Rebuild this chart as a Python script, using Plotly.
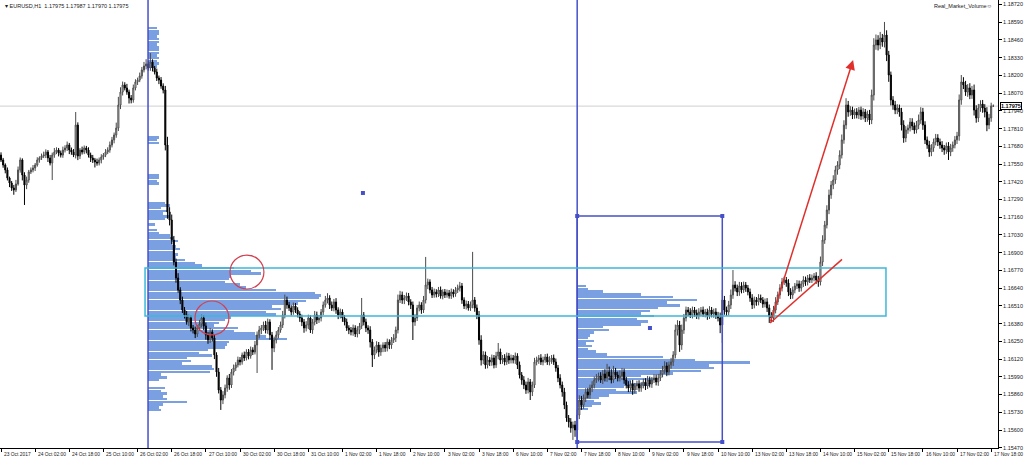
import numpy as np
import plotly.graph_objects as go

# ---------------- data (prices in 1e-5 units) ----------------
closes = [
117580,117543,117507,117448,117411,117375,117360,117404,117507,117580,
117470,117396,117433,117492,117507,117521,117543,117580,117595,117609,
117616,117638,117595,117558,117616,117638,117653,117631,117616,117653,
117668,117690,117653,117638,117616,117836,117609,117653,117638,117668,
117653,117616,117595,117580,117565,117558,117580,117602,117616,117638,
117653,117690,117727,117763,117814,117983,118078,118130,118108,118078,
118034,118020,118108,118152,118166,118196,118240,118269,118284,118254,
118298,118254,118225,118181,118166,118122,118093,117690,117199,117140,
116993,116832,116715,116627,116553,116480,116443,116392,116421,116348,
116333,116304,116348,116377,116421,116363,116297,116260,116319,116275,
116150,116025,115893,115820,115857,115908,115981,115930,116025,116055,
116077,116113,116099,116150,116128,116172,116143,116187,116172,116223,
116297,116333,116348,116370,116333,116392,116297,116201,116260,116297,
116333,116370,116443,116553,116517,116495,116465,116509,116480,116451,
116421,116392,116348,116370,116421,116333,116392,116443,116407,116421,
116465,116517,116553,116568,116517,116495,116539,116480,116443,116465,
116421,116392,116348,116333,116319,116348,116304,116333,116363,116443,
116392,116348,116333,116245,116150,116187,116223,116172,116201,116223,
116201,116245,116223,116260,116275,116333,116553,116590,116553,116568,
116583,116539,116517,116392,116421,116495,116517,116480,116553,116663,
116685,116627,116590,116612,116597,116627,116583,116612,116590,116605,
116583,116612,116597,116627,116641,116656,116553,116509,116524,116495,
116517,116553,116495,116443,116260,116113,116150,116077,116113,116099,
116128,116077,116143,116172,116113,116128,116099,116143,116113,116128,
116113,116143,116077,116003,115967,115930,115893,115952,115879,115930,
116099,116113,116128,116099,116113,116135,116099,116113,116128,116099,
116055,115981,115930,115879,115783,115688,115659,115615,115637,115600,
115710,115820,115783,115835,115879,115857,115908,115930,115967,115981,
115996,115967,116011,115981,116025,115996,115967,116025,116003,115981,
115996,116025,115967,115930,115908,115937,115893,115923,115937,115908,
115930,115952,115923,115967,115937,115967,115981,115952,115981,116011,
116040,116069,116025,116077,116099,116150,116333,116370,116223,116333,
116421,116480,116465,116443,116480,116458,116436,116465,116480,116451,
116465,116436,116480,116451,116465,116436,116421,116370,116553,116480,
116465,116517,116590,116663,116641,116612,116656,116627,116663,116641,
116612,116568,116517,116553,116539,116568,116553,116524,116539,116495,
116436,116421,116480,116539,116590,116641,116685,116700,116678,116612,
116590,116627,116656,116671,116641,116671,116700,116685,116715,116700,
116715,116729,116700,116685,116832,116993,117103,117213,117323,117396,
117433,117507,117543,117616,117727,117836,117983,117932,117946,117910,
117932,117910,117946,117902,117932,117888,117917,117873,118056,118423,
118460,118423,118474,118445,118496,118350,118203,118020,117983,117946,
117961,117932,117836,117741,117800,117814,117858,117829,117800,117836,
117873,117932,117836,117727,117690,117638,117668,117712,117741,117712,
117690,117668,117653,117683,117638,117668,117690,117727,117756,118020,
118152,118130,118078,118108,118056,118093,117946,117888,117961,117990,
117961,117932,117836,117888,117975,117975,
]
first_open = 117616

upper_wick = [
20,15,12,18,10,15,22,30,25,18, 12,20,25,15,18,22,15,20,12,18,
25,20,15,22,18,30,20,15,18,25, 20,25,15,18,22,96,20,15,25,18,
15,20,18,22,15,25,18,20,15,22, 20,25,22,18,40,60,35,25,20,30,
18,22,25,20,18,25,22,30,35,25, 66,20,15,25,18,22,20,30,60,35,
40,30,25,35,20,25,22,30,25,20, 22,25,20,30,25,20,25,22,30,20,
25,20,30,22,28,25,20,30,22,25, 20,25,22,18,25,20,22,25,20,30,
25,30,22,25,30,25,20,22,25,28, 22,25,30,40,25,22,20,25,22,20,
20,25,22,28,25,20,22,30,25,22, 22,25,30,35,20,25,22,28,20,25,
20,22,25,20,22,25,20,28,22,125, 22,25,20,28,22,25,28,22,25,20,
22,25,20,22,28,25,40,30,25,22, 25,22,20,25,28,22,25,20,30,206,
25,20,22,25,20,22,25,20,22,25, 22,25,20,22,25,30,22,20,25,22,
25,353,22,25,30,35,28,25,30,22, 25,22,30,66,25,22,28,25,22,25,
22,25,20,25,22,28,25,30,22,25, 30,25,22,28,25,22,25,28,22,25,
25,22,28,25,30,25,22,28,25,30, 40,35,30,25,28,30,25,28,25,30,
25,28,30,35,60,40,50,45,30,25, 40,30,25,22,28,25,30,22,25,28,
22,25,28,30,25,22,28,25,30,28, 30,35,28,25,30,28,40,35,30,40,
30,25,22,28,25,22,25,28,22,25, 22,25,28,22,25,28,30,40,74,30,
25,30,40,110,28,25,30,28,25,22, 22,25,28,25,22,28,25,22,25,28,
25,28,30,35,25,28,30,25,22,28, 28,25,22,28,25,22,28,25,22,28,
25,22,28,30,40,35,30,35,40,30, 35,30,28,35,40,35,50,30,28,25,
25,28,22,25,28,22,25,30,40,50, 40,35,45,30,96,35,30,25,28,30,
28,25,30,35,28,25,30,28,25,30, 40,35,30,28,25,30,28,25,30,28,
25,28,22,25,28,30,25,28,30,40, 51,35,30,28,35,30,40,35,30,28,
30,28,35,30,25,12,
]
lower_wick = [
15,20,25,18,30,22,35,15,12,20, 40,146,30,20,15,18,22,12,20,15,
15,22,30,18,125,20,15,25,18,20, 18,22,30,20,15,25,30,22,18,15,
25,18,30,22,40,20,18,25,20,15, 15,20,18,25,20,22,30,25,18,20,
40,25,20,18,22,15,20,18,25,20, 20,25,18,22,30,20,25,40,50,40,
30,25,35,20,30,22,25,20,30,25, 25,30,22,20,25,30,35,28,22,25,
30,35,25,73,30,25,28,35,22,25, 22,18,25,20,22,18,25,20,22,18,
205,25,30,22,25,28,35,160,30,25, 25,20,22,25,28,22,25,20,22,25,
28,30,35,25,30,22,28,25,30,22, 25,22,20,25,30,22,25,28,30,25,
28,25,22,30,25,28,22,25,30,22, 25,30,28,40,88,30,25,35,28,30,
28,25,30,28,22,30,25,22,28,30, 22,25,30,132,28,22,25,28,22,25,
30,25,22,20,25,22,20,25,22,20, 20,22,25,20,22,25,28,22,25,20,
22,25,28,30,35,40,30,28,25,30, 28,25,22,25,30,28,25,22,28,25,
25,28,30,25,35,30,28,25,59,30, 22,25,28,22,25,20,22,25,28,22,
28,30,25,35,30,28,40,35,88,50, 60,30,35,28,30,25,28,30,25,22,
25,22,30,25,28,30,25,22,28,25, 25,30,28,25,30,28,35,25,30,28,
28,25,30,22,25,28,22,25,28,22, 25,28,30,25,28,30,25,40,50,35,
28,25,30,22,25,28,22,25,28,22, 25,28,22,25,28,22,25,60,132,35,
28,25,30,28,25,30,28,25,22,28, 25,28,30,25,28,25,22,28,25,30,
51,30,28,25,22,28,25,22,28,30, 30,28,25,22,28,25,22,28,25,22,
22,25,28,35,25,30,28,25,30,28, 30,28,35,30,25,28,30,35,28,30,
28,25,30,28,25,30,28,35,30,40, 35,40,30,35,40,45,50,40,35,30,
30,35,40,35,30,28,25,30,28,25, 30,28,35,30,28,35,30,28,25,30,
28,30,35,28,58,30,28,25,30,35, 35,30,28,35,30,28,40,35,30,28,
35,40,45,30,28,5,
]

time_labels = ["23 Oct 2017", "24 Oct 02:00", "24 Oct 18:00", "25 Oct 10:00", "26 Oct 02:00",
               "26 Oct 18:00", "27 Oct 10:00", "30 Oct 02:00", "30 Oct 18:00", "31 Oct 10:00",
               "1 Nov 02:00", "1 Nov 18:00", "2 Nov 10:00", "3 Nov 02:00", "3 Nov 18:00",
               "6 Nov 10:00", "7 Nov 02:00", "7 Nov 18:00", "8 Nov 10:00", "9 Nov 02:00",
               "9 Nov 18:00", "10 Nov 10:00", "13 Nov 02:00", "13 Nov 18:00", "14 Nov 10:00",
               "15 Nov 02:00", "15 Nov 18:00", "16 Nov 10:00", "17 Nov 02:00", "17 Nov 18:00"]
bars_per_label = 16

price_ticks = [1.18720, 1.18590, 1.18460, 1.18330, 1.18200, 1.18070, 1.17940, 1.17810,
               1.17680, 1.17550, 1.17420, 1.17290, 1.17160, 1.17030, 1.16900, 1.16770,
               1.16640, 1.16510, 1.16380, 1.16250, 1.16120, 1.15990, 1.15860, 1.15730,
               1.15600, 1.15470]

# volume profiles (top level price, level step, volumes top->bottom)
left_profile_start_bar = 69
left_profile_top = 1.18548
left_volumes = [
4,5,5,4,5,5,4,5,5,5,4,5,4,5,4,
0,0,0,0,0,0,0,0,0,0,0,0,0,0,0,0,0,0,0,0,0,0,0,0,0,
5,4,5,
0,0,0,0,0,0,0,0,0,0,0,
5,5,4,5,
0,0,0,0,0,0,
8,10,6,9,7,10,8,
0,3,0,4,5,
10,12,14,11,13,15,12,14,13,
17,22,25,
40,48,53,
39,38,
36,43,46,
60,
78,81,80,
74,70,
58,62,55,60,
39,36,
33,31,
42,40,
50,55,65,
38,37,36,
28,24,30,
18,20,16,
30,31,29,
6,9,5,
0,0,
8,6,9,
7,9,
18,
7,5,6,
]
right_profile_start_bar = 270
right_profile_top = 1.16656
right_volumes = [4,5,12,30,45,56,42,48,38,34,30,36,28,33,30,12,15,8,6,5,8,4,7,5,9,14,
                 40,55,81,62,64,58,45,30,38,25,34,22,18,28,15,10,8,11,7,5]
profile_step = 0.0002

current_price = 1.17975
ohlc_text = "EURUSD,H1  1.17975 1.17987 1.17970 1.17975"

# drawing objects (bar index, price)
box = dict(x0=270, x1=338, y0=1.15512, y1=1.17169)
zone = dict(x0=67.5, x1=414.7, y0=1.16436, y1=1.16788)
circles = [dict(x0=107.3, x1=123.2, y0=1.16634, y1=1.16883),
           dict(x0=90.9, x1=106.8, y0=1.16297, y1=1.16546)]
arrow = dict(x0=360.4, y0=1.16385, x1=399.3, y1=1.18313)
trend = dict(x0=360.4, y0=1.16385, x1=394.1, y1=1.16851)
anchor_pts_x = [270, 338, 270, 338, 304.1, 169.6]
anchor_pts_y = [1.17169, 1.17169, 1.15512, 1.15512, 1.16348, 1.17338]

# ---------------- build ----------------
c = np.array(closes) / 1e5
o = np.concatenate([[first_open / 1e5], c[:-1]])
h = np.maximum(o, c) + np.array(upper_wick) / 1e5
l = np.minimum(o, c) - np.array(lower_wick) / 1e5
idx = np.arange(len(c))

BLUE = "#4650c8"
PROF = "#7aa0e2"

fig = go.Figure()

lv = np.array(left_volumes)
ly = left_profile_top - profile_step * np.arange(len(lv))
fig.add_trace(go.Bar(x=lv, y=ly, base=left_profile_start_bar, orientation="h",
                     width=profile_step * 0.72, marker=dict(color=PROF, line=dict(width=0)),
                     hoverinfo="skip", showlegend=False))
rv = np.array(right_volumes)
ry = right_profile_top - profile_step * np.arange(len(rv))
fig.add_trace(go.Bar(x=rv, y=ry, base=right_profile_start_bar, orientation="h",
                     width=profile_step * 0.72, marker=dict(color=PROF, line=dict(width=0)),
                     hoverinfo="skip", showlegend=False))

fig.add_trace(go.Candlestick(x=idx, open=o, high=h, low=l, close=c,
                             increasing=dict(line=dict(color="#4a4a4a", width=1), fillcolor="#ffffff"),
                             decreasing=dict(line=dict(color="#000000", width=1), fillcolor="#000000"),
                             whiskerwidth=0, showlegend=False, hoverinfo="skip"))

fig.add_trace(go.Scatter(x=anchor_pts_x, y=anchor_pts_y, mode="markers",
                         marker=dict(symbol="square", size=4, color=BLUE),
                         hoverinfo="skip", showlegend=False))

shapes = []
shapes.append(dict(type="line", xref="paper", x0=0, x1=1, yref="y", y0=current_price, y1=current_price,
                   line=dict(color="#cfcfcf", width=1), layer="below"))
for xb in [left_profile_start_bar - 0.1, right_profile_start_bar]:
    shapes.append(dict(type="line", xref="x", x0=xb, x1=xb, yref="paper", y0=0, y1=1,
                       line=dict(color=BLUE, width=1.5)))
shapes.append(dict(type="rect", xref="x", yref="y", **box, line=dict(color=BLUE, width=1.5)))
shapes.append(dict(type="rect", xref="x", yref="y", **zone, line=dict(color="#3cb8d8", width=1.5)))
for cc in circles:
    shapes.append(dict(type="circle", xref="x", yref="y", **cc, line=dict(color="#d2404f", width=1.2)))
shapes.append(dict(type="line", xref="x", yref="y", **trend, line=dict(color="#e0302c", width=1.5)))

annotations = []
annotations.append(dict(x=arrow["x1"], y=arrow["y1"], ax=arrow["x0"], ay=arrow["y0"],
                        xref="x", yref="y", axref="x", ayref="y", text="", showarrow=True,
                        arrowhead=2, arrowsize=1.3, arrowwidth=1.5, arrowcolor="#e0302c"))
FONT = "Liberation Sans"
for k, lab in enumerate(time_labels):
    annotations.append(dict(x=k * bars_per_label + 0.3, y=0, xref="x", yref="paper", text=lab,
                            xanchor="left", yanchor="top", yshift=-2, showarrow=False,
                            font=dict(family=FONT, size=4.9, color="#202020")))
annotations.append(dict(x=0.003, y=1, xref="paper", yref="paper", text="▾ " + ohlc_text,
                        xanchor="left", yanchor="top", yshift=-1, showarrow=False,
                        font=dict(family=FONT, size=5.5, color="#202020")))
annotations.append(dict(x=0.996, y=1, xref="paper", yref="paper", text="Real_Market_Volume☺",
                        xanchor="right", yanchor="top", yshift=-1, showarrow=False,
                        font=dict(family=FONT, size=5.5, color="#202020")))
annotations.append(dict(x=1, y=current_price, xref="paper", yref="y", text="<b>1.17975</b>",
                        xanchor="left", yanchor="middle", xshift=2, showarrow=False,
                        bgcolor="#ffffff", bordercolor="#000000", borderwidth=1, borderpad=0,
                        font=dict(family=FONT, size=5.5, color="#000000")))

fig.update_layout(
    width=1024, height=462,
    margin=dict(l=0, r=26, t=0, b=14),
    paper_bgcolor="#ffffff", plot_bgcolor="#ffffff",
    showlegend=False, bargap=0,
    shapes=shapes, annotations=annotations,
    xaxis=dict(range=[-0.47, 467.2], rangeslider=dict(visible=False), showgrid=False, zeroline=False,
               tickmode="array", tickvals=[k * bars_per_label for k in range(len(time_labels))],
               showticklabels=False, ticks="outside", ticklen=3, tickcolor="#000000",
               showline=True, linecolor="#000000", linewidth=1),
    yaxis=dict(range=[1.15468, 1.18753], side="right", showgrid=False, zeroline=False,
               tickmode="array", tickvals=price_ticks, ticktext=[f"{v:.5f}" for v in price_ticks],
               ticks="outside", ticklen=3, tickcolor="#000000",
               tickfont=dict(family=FONT, size=5.5, color="#202020"),
               showline=True, linecolor="#000000", linewidth=1),
)

fig.write_html("out.html", config={"displayModeBar": False},
               post_script="document.body.style.margin='0';document.body.style.padding='0';"
                           "document.body.style.overflow='hidden';")
